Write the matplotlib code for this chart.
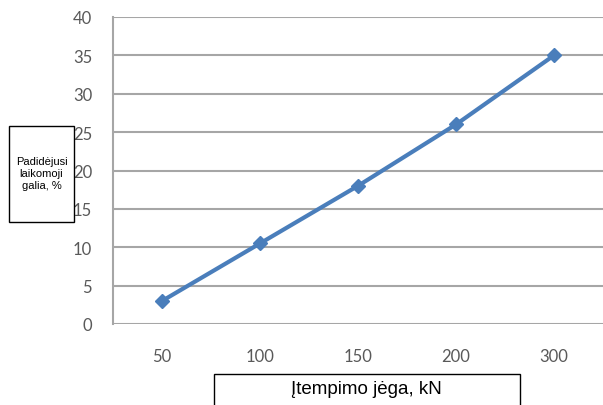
import matplotlib
matplotlib.use("Agg")
import matplotlib.pyplot as plt
from matplotlib.patches import Rectangle

categories = ["50", "100", "150", "200", "300"]
values = [3, 10.5, 18, 26, 35]
y_ticks = [0, 5, 10, 15, 20, 25, 30, 35, 40]
y_label = "Padidėjusi\nlaikomoji\ngalia, %"
x_label = "Įtempimo jėga, kN"

W, H = 603, 406
fig = plt.figure(figsize=(W / 100, H / 100), dpi=100)
fig.patch.set_facecolor("white")

ax = fig.add_axes([113 / W, 81 / H, 490 / W, 307 / H])
x = list(range(len(categories)))
ax.plot(x, values, color="#4a7ebb", linewidth=3, marker="D",
        markersize=7.5, markerfacecolor="#4a7ebb", markeredgecolor="#4a7ebb",
        zorder=3)

ax.set_xlim(-0.5, len(categories) - 0.5)
ax.set_ylim(0, 40)
ax.set_xticks(x)
ax.set_xticklabels(categories)
ax.set_yticks(y_ticks)
ax.yaxis.grid(True, color="#a6a6a6", linewidth=1.5)
ax.set_axisbelow(True)
for side in ("top", "right", "bottom"):
    ax.spines[side].set_visible(False)
ax.spines["left"].set_color("#a6a6a6")
ax.spines["left"].set_linewidth(1.5)
ax.tick_params(axis="both", length=0, labelsize=12, colors="#595959")
ax.tick_params(axis="x", pad=17)
ax.tick_params(axis="y", pad=15)
for lbl in ax.get_xticklabels() + ax.get_yticklabels():
    lbl.set_fontfamily("Lato")

# boxed axis titles
fig.patches.append(Rectangle((9 / W, (H - 223) / H), 65 / W, 96 / H,
                             transform=fig.transFigure, fill=False,
                             edgecolor="black", linewidth=1))
fig.text(41.5 / W, (H - 174) / H, y_label, ha="center", va="center",
         fontsize=8, family="Liberation Sans", linespacing=1.25)

fig.patches.append(Rectangle((214 / W, -10 / H), 306 / W, 41 / H,
                             transform=fig.transFigure, fill=False,
                             edgecolor="black", linewidth=1))
fig.text(366 / W, (H - 390) / H, x_label, ha="center", va="center",
         fontsize=13.5, family="Liberation Sans")

fig.savefig("out.png", dpi=100, facecolor="white")
